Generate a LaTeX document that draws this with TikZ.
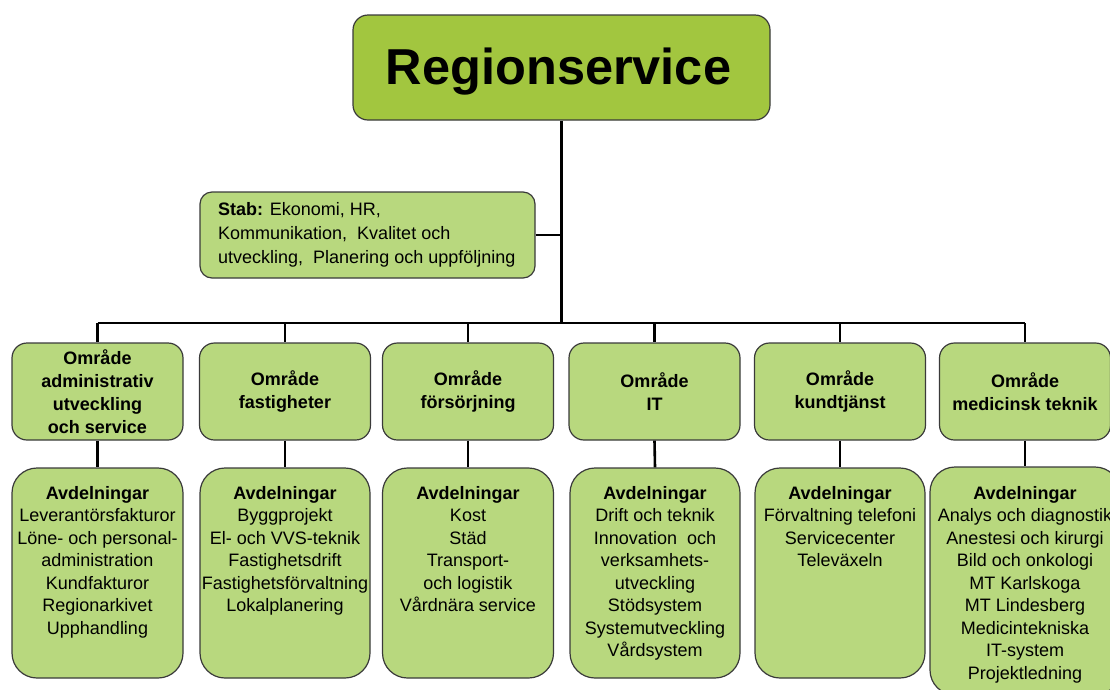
\documentclass[tikz,border=0pt]{standalone}
\usepackage{fontspec}
\setmainfont{Liberation Sans}
\definecolor{topgreen}{HTML}{A2C63F}
\definecolor{boxgreen}{HTML}{B8D87E}
\definecolor{edge}{HTML}{3A3A3A}
\tikzset{
  every node/.style={font=\fontsize{18}{22.5}\selectfont},
  topbox/.style={draw=edge, line width=1.2pt, fill=topgreen, rounded corners=15pt, inner sep=0pt},
  stabbox/.style={draw=edge, line width=1.2pt, fill=boxgreen, rounded corners=12pt, inner sep=0pt},
  areabox/.style={draw=edge, line width=1.2pt, fill=boxgreen, rounded corners=15pt, inner sep=0pt,
     minimum width=171pt, minimum height=97pt, align=center, font=\fontsize{18}{23}\selectfont\bfseries},
  avdbox/.style={draw=edge, line width=1.2pt, fill=boxgreen, rounded corners=25pt, inner sep=0pt},
  avdtext/.style={anchor=north, inner sep=0pt, align=center, font=\fontsize{18}{22.5}\selectfont},
  conn/.style={line width=2.6pt, draw=black},
}
\begin{document}
\begin{tikzpicture}[x=1pt,y=-1pt]
\useasboundingbox (0,0) rectangle (1110,689);
\clip (0,0) rectangle (1110,689);
\node[topbox, minimum width=417pt, minimum height=105pt] (top) at (561.5,67.5) {};
\node[inner sep=0pt, font=\fontsize{50.5}{54}\selectfont\bfseries] (toptext) at (558.5,72) {Regionservice};
\node[stabbox, minimum width=335pt, minimum height=86pt] (stab) at (367.5,235) {};
\node[anchor=west, inner sep=0pt, align=left, font=\fontsize{18}{24}\selectfont] (stabtext) at (218,234.5)
  {\textbf{Stab:} Ekonomi, HR,\\Kommunikation,\ \ Kvalitet och\\utveckling,\ \ Planering och uppföljning};
\coordinate (bus) at (561.5,323);
% area boxes
\node[areabox] (a1) at (97.5,391.5) {Område\\administrativ\\utveckling\\och service};
\node[areabox] (a2) at (285,391.5) {Område\\fastigheter};
\node[areabox] (a3) at (468,391.5) {Område\\försörjning};
\node[areabox] (a4) at (654.5,391.5) {Område\\IT};
\node[areabox] (a5) at (840,391.5) {Område\\kundtjänst};
\node[areabox] (a6) at (1025,391.5) {Område\\medicinsk teknik};
% avdelning boxes
\node[avdbox, minimum width=171pt, minimum height=210pt] (d1) at (97.5,573) {};
\node[avdbox, minimum width=170pt, minimum height=210pt] (d2) at (285,573) {};
\node[avdbox, minimum width=171pt, minimum height=210pt] (d3) at (468,573) {};
\node[avdbox, minimum width=170pt, minimum height=210pt] (d4) at (655,573) {};
\node[avdbox, minimum width=170pt, minimum height=210pt] (d5) at (840,573) {};
\node[avdbox, minimum width=190pt, minimum height=228pt] (d6) at (1025,581) {};
\node[avdtext] (t1) at (97.5,486) {\textbf{Avdelningar}\\Leverantörsfakturor\\Löne- och personal-\\administration\\Kundfakturor\\Regionarkivet\\Upphandling};
\node[avdtext] (t2) at (285,486) {\textbf{Avdelningar}\\Byggprojekt\\El- och VVS-teknik\\Fastighetsdrift\\Fastighetsförvaltning\\Lokalplanering};
\node[avdtext] (t3) at (468,486) {\textbf{Avdelningar}\\Kost\\Städ\\Transport-\\och logistik\\Vårdnära service};
\node[avdtext] (t4) at (655,486) {\textbf{Avdelningar}\\Drift och teknik\\Innovation\ \ och\\verksamhets-\\utveckling\\Stödsystem\\Systemutveckling\\Vårdsystem};
\node[avdtext] (t5) at (840,486) {\textbf{Avdelningar}\\Förvaltning telefoni\\Servicecenter\\Televäxeln};
\node[avdtext] (t6) at (1025,486) {\textbf{Avdelningar}\\Analys och diagnostik\\Anestesi och kirurgi\\Bild och onkologi\\MT Karlskoga\\MT Lindesberg\\Medicintekniska\\IT-system\\Projektledning};
% connectors
\draw[conn] (top.south) -- (bus);
\draw[conn] (stab.east) -- (stab.east -| bus);
\draw[conn] (a1.north |- bus) -- (a6.north |- bus);
\foreach \i in {1,...,6}{
  \draw[conn] (a\i.north |- bus) -- (a\i.north);
  \draw[conn] (a\i.south) -- (d\i.north);
}
\end{tikzpicture}
\end{document}
